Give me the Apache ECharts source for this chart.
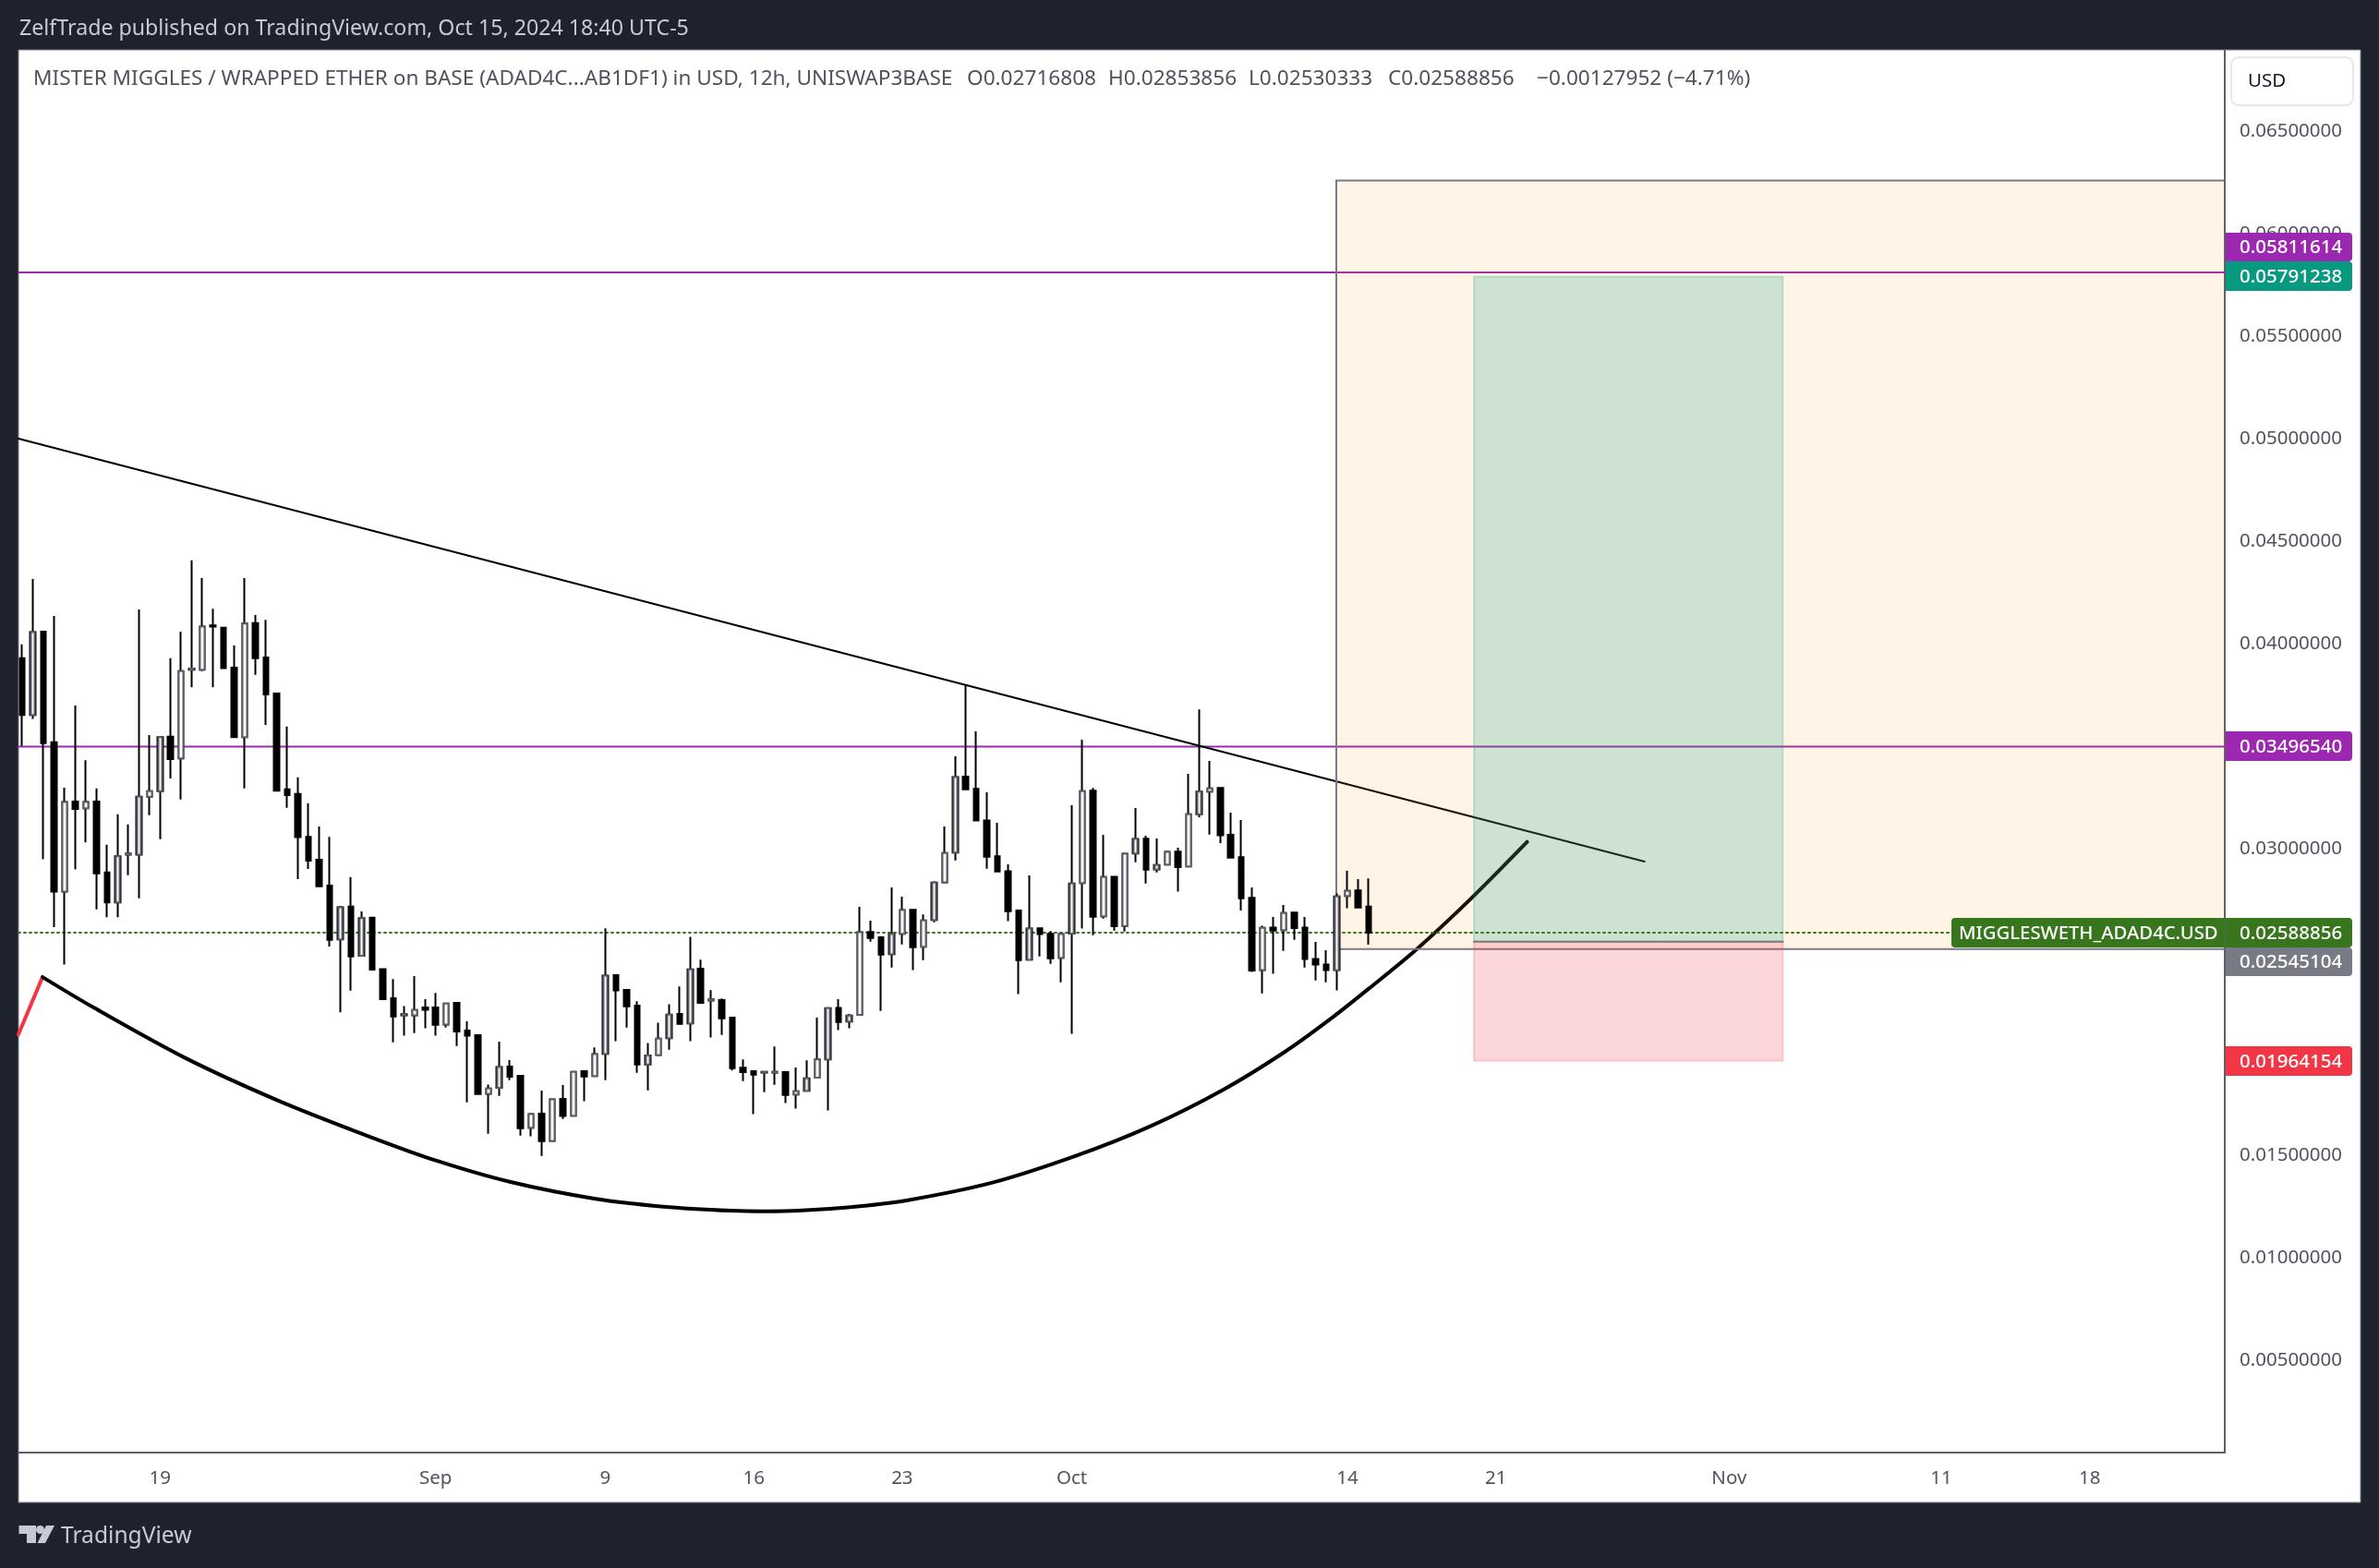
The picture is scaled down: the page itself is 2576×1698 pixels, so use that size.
<!DOCTYPE html>
<html>
<head>
<meta charset="utf-8">
<title>MISTER MIGGLES / WRAPPED ETHER</title>
<script src="https://cdn.jsdelivr.net/npm/echarts@6/dist/echarts.min.js"></script>
<style>
html,body{margin:0;padding:0;background:#1e222d;}
#main{width:2576px;height:1698px;}
</style>
</head>
<body>
<div id="main"></div>
<script>
// 12h bars
var opens=[.03928,.03651,.04058,.03518,.02790,.03229,.03196,.03229,.02883,.02736,
.02970,.02970,.03253,.03280,.03545,.03440,.03872,.03872,.04089,.04077,
.03882,.03543,.04100,.03932,.03756,.03289,.03266,.03057,.02945,.02819,
.02556,.02716,.02476,.02662,.02411,.02269,.02186,.02186,.02224,.02224,
.02141,.02246,.02111,.02089,.01803,.01832,.01936,.01890,.01637,.01706,
.01573,.01778,.01695,.01913,.01889,.01997,.02382,.02310,.02233,.01946,
.01992,.02074,.02192,.02146,.02413,.02258,.02260,.02174,.01930,.01913,
.01906,.01906,.01909,.01799,.01817,.01881,.01970,.02222,.02155,.02188,
.02592,.02566,.02484,.02583,.02700,.02520,.02651,.02835,.02980,.03351,
.03291,.03137,.02962,.02889,.02697,.02457,.02610,.02583,.02466,.02585,
.02831,.03282,.02669,.02862,.02622,.02975,.03047,.02898,.02921,.02984,
.02912,.03167,.03277,.03295,.03067,.02957,.02759,.02407,.02614,.02601,
.02687,.02614,.02461,.02434,.02407,.02768,.02795,.02716808];
var closes=[.03651,.04056,.03514,.02790,.03227,.03193,.03227,.02879,.02736,.02962,
.02976,.03253,.03280,.03543,.03436,.03866,.03878,.04083,.04083,.03880,
.03543,.04098,.03928,.03752,.03282,.03260,.03055,.02941,.02815,.02554,
.02713,.02473,.02660,.02409,.02265,.02180,.02191,.02212,.02213,.02140,
.02243,.02107,.02086,.01802,.01829,.01933,.01886,.01635,.01703,.01572,
.01775,.01694,.01910,.01887,.01996,.02379,.02307,.02230,.01946,.01990,
.02072,.02189,.02144,.02410,.02246,.02264,.02171,.01928,.01908,.01896,
.01910,.01910,.01797,.01815,.01878,.01970,.02221,.02153,.02185,.02591,
.02563,.02482,.02582,.02699,.02518,.02649,.02834,.02978,.03348,.03289,
.03136,.02960,.02888,.02694,.02455,.02609,.02582,.02464,.02582,.02829,
.03280,.02667,.02861,.02621,.02974,.03046,.02897,.02919,.02983,.02909,
.03167,.03277,.03293,.03064,.02955,.02757,.02404,.02613,.02599,.02685,
.02611,.02460,.02433,.02406,.02766,.02793,.02712,.02588856];
var highs=[.03996,.04315,.04058,.04135,.03297,.03698,.03431,.03293,.03018,.03167,
.03117,.04166,.03553,.03543,.03928,.04058,.04406,.04319,.04170,.04077,
.03990,.04319,.04139,.04116,.03756,.03595,.03347,.03220,.03107,.03057,
.02720,.02860,.02693,.02666,.02416,.02362,.02231,.02377,.02264,.02295,
.02243,.02246,.02156,.02089,.01848,.02057,.01967,.01890,.01709,.01818,
.01775,.01845,.01910,.01913,.02029,.02610,.02382,.02310,.02254,.02051,
.02150,.02240,.02326,.02569,.02457,.02308,.02268,.02174,.01970,.01916,
.01910,.02033,.01909,.01931,.01966,.02174,.02221,.02265,.02192,.02715,
.02648,.02572,.02810,.02765,.02700,.02678,.02840,.03107,.03450,.03798,
.03571,.03274,.03125,.02923,.02697,.02868,.02610,.02597,.02582,.03211,
.03531,.03295,.03067,.02862,.02974,.03197,.03062,.03049,.02989,.03004,
.03364,.03678,.03427,.03299,.03175,.03139,.02810,.02623,.02666,.02724,
.02687,.02666,.02544,.02503,.02781,.02891,.02850,.02853856];
var lows=[.03500,.03632,.02947,.02616,.02434,.02898,.03030,.02703,.02664,.02664,
.02869,.02757,.03162,.03045,.03342,.03239,.03787,.03866,.03787,.03880,
.03543,.03293,.03847,.03603,.03282,.03198,.02850,.02900,.02815,.02521,
.02200,.02306,.02476,.02409,.02265,.02054,.02086,.02099,.02122,.02086,
.02126,.02036,.01761,.01802,.01608,.01793,.01869,.01599,.01595,.01500,
.01573,.01680,.01695,.01766,.01889,.01869,.02059,.02126,.01905,.01820,
.01992,.02018,.02144,.02059,.02246,.02077,.02090,.01916,.01865,.01703,
.01811,.01847,.01757,.01730,.01817,.01881,.01721,.02113,.02122,.02188,
.02545,.02207,.02419,.02532,.02406,.02455,.02640,.02835,.02942,.03289,
.03136,.02901,.02888,.02645,.02289,.02457,.02473,.02437,.02347,.02095,
.02609,.02577,.02658,.02599,.02595,.02933,.02829,.02883,.02921,.02789,
.02912,.03152,.03068,.03026,.02955,.02697,.02397,.02293,.02388,.02500,
.02554,.02419,.02356,.02347,.02307,.02708,.02712,.02530333];

var timeTickBars=[13,39,55,69,83,99,125,139,161,181,195];
var timeTickLabels=['19','Sep','9','16','23','Oct','14','21','Nov','11','18'];
var priceTicks=[0.005,0.01,0.015,0.02,0.025,0.03,0.035,0.04,0.045,0.05,0.055,0.06,0.065];

// drawings: bar position, price
var trendLine=[[-0.35,.05],[153.02,.02936]];
var redSegment=[[-0.35,.02093],[1.92,.02372]];
var arcCurve=[[1.92,.02372],[6.62,.02227],[15.33,.01979],[24.04,.01772],[32.75,.01594],[39.15,.01475],
[46.08,.01372],[54.09,.01290],[60.49,.01252],[66.9,.01232],[70.1,.01229],[73.2,.01232],[79,.01254],[83.42,.01282],
[91.43,.01368],[99.39,.01500],[106.36,.01643],[113.3,.01823],[119.2,.02011],[123.43,.02169],[127.09,.02319],
[131.5,.02507],[136.63,.02754],[141.95,.03032]];
var lastPrice=0.02588856;
var resistanceTop=0.05811614;
var resistanceMid=0.03496540;
var targetPrice=0.05791238;
var entryPrice=0.02545104;
var stopPrice=0.01964154;
var boxTop=0.06259;
var boxBottom=0.02509;
var boxBars=[123.95,212];
var positionBars=[136.93,166.07];

var xMin=-0.35, xMax=207.75, yMin=0.000518, yMax=0.068972;
var uiFont='"Noto Sans"';

var myChart=echarts.init(document.getElementById('main'));

var candleData=[],upBodies=[];
for(var i=0;i<opens.length;i++){
    candleData.push([i,opens[i],closes[i],lows[i],highs[i]]);
    if(closes[i]>opens[i]){
        upBodies.push([i,opens[i],closes[i],opens[i],closes[i]]);
    }
}

function lineSeries(data,color,width,z,type,smooth){
    return {type:'line',data:data,symbol:'none',silent:true,animation:false,z:z,clip:true,smooth:smooth||false,
        lineStyle:{color:color,width:width,type:type||'solid',cap:'round'}};
}
function hLine(price,from,to){return [[from,price],[to,price]];}

function rectSeries(data,fill,stroke,strokeWidth,z){
    return {type:'custom',data:data,silent:true,animation:false,z:z,clip:true,
        encode:{x:[0,1],y:[2,3]},
        renderItem:function(params,api){
            var a=api.coord([api.value(0),api.value(2)]);
            var b=api.coord([api.value(1),api.value(3)]);
            return {type:'rect',shape:{x:a[0],y:a[1],width:b[0]-a[0],height:b[1]-a[1]},
                style:{fill:fill,stroke:stroke,lineWidth:strokeWidth}};
        }};
}

function tag(text,fill,top,height){
    return [
        {type:'rect',z:50,shape:{x:2410,y:top,width:137,height:height,r:[0,4,4,0]},style:{fill:fill}},
        {type:'text',z:51,style:{text:text,x:2425,y:top+height/2+1,fill:'#fff',font:'500 20.5px '+uiFont,textVerticalAlign:'middle'}}
    ];
}
function headerText(text,x){
    return {type:'text',z:40,style:{text:text,x:x,y:86,fill:'#50535e',font:'22.6px '+uiFont,textVerticalAlign:'middle'}};
}

var graphics=[
    {type:'rect',z:-5,shape:{x:20,y:54,width:2536,height:1573},style:{fill:'#fff',stroke:'#787b86',lineWidth:1}},
    {type:'text',style:{text:'ZelfTrade published on TradingView.com, Oct 15, 2024 18:40 UTC-5',x:21,y:31,fill:'#c8cad3',font:'23.2px '+uiFont,textVerticalAlign:'middle'}},
    headerText('MISTER MIGGLES / WRAPPED ETHER on BASE (ADAD4C...AB1DF1) in USD, 12h, UNISWAP3BASE',36),
    headerText('O0.02716808',1047),
    headerText('H0.02853856',1200),
    headerText('L0.02530333',1352),
    headerText('C0.02588856',1503),
    headerText('\u22120.00127952 (\u22124.71%)',1664),
    {type:'rect',z:40,shape:{x:2416,y:62,width:132,height:52,r:8},style:{fill:'#fff',stroke:'#e6e8ee',lineWidth:2}},
    {type:'text',z:41,style:{text:'USD',x:2434,y:88,fill:'#131722',font:'20.5px '+uiFont,textVerticalAlign:'middle'}},
    // TradingView logo
    {type:'polygon',shape:{points:[[20.5,1652],[39,1652],[39,1671],[29,1671],[29,1661],[20.5,1661]]},style:{fill:'#c8cad3'}},
    {type:'circle',shape:{cx:43.5,cy:1656.5,r:4.5},style:{fill:'#c8cad3'}},
    {type:'polygon',shape:{points:[[50,1652],[59,1652],[49,1671],[40.5,1671]]},style:{fill:'#c8cad3'}},
    {type:'text',style:{text:'TradingView',x:66,y:1664,fill:'#c8cad3',font:'24.6px '+uiFont,textVerticalAlign:'middle'}},
    // symbol label next to last price
    {type:'rect',z:50,shape:{x:2113,y:994,width:296,height:32,r:[4,0,0,4]},style:{fill:'#38761d'}},
    {type:'text',z:51,style:{text:'MIGGLESWETH_ADAD4C.USD',x:2121,y:1011,fill:'#fff',font:'500 20.3px '+uiFont,textVerticalAlign:'middle'}}
];
graphics=graphics.concat(
    tag(resistanceTop.toFixed(8),'#9c27b0',252,31),
    tag(targetPrice.toFixed(8),'#089981',283,32),
    tag(resistanceMid.toFixed(8),'#9c27b0',792,32),
    tag(lastPrice.toFixed(8),'#38761d',994,32),
    tag(entryPrice.toFixed(8),'#787b86',1026,31),
    tag(stopPrice.toFixed(8),'#f23645',1133,32)
);

myChart.setOption({
    backgroundColor:'#1e222d',
    animation:false,
    grid:{left:20,right:167,top:54,bottom:125,containLabel:false},
    xAxis:{
        type:'value',min:xMin,max:xMax,
        splitLine:{show:false},
        axisTick:{show:false},
        axisLine:{show:true,onZero:false,lineStyle:{color:'#5d5f66',width:2}},
        axisLabel:{
            customValues:timeTickBars,color:'#50535e',fontFamily:uiFont,fontSize:20.5,margin:18,
            formatter:function(v){return timeTickLabels[timeTickBars.indexOf(v)];}
        }
    },
    yAxis:{
        type:'value',position:'right',min:yMin,max:yMax,
        splitLine:{show:false},
        axisTick:{show:false},
        axisLine:{show:true,onZero:false,lineStyle:{color:'#5d5f66',width:2}},
        axisLabel:{
            customValues:priceTicks,color:'#50535e',fontFamily:uiFont,fontSize:20.5,margin:16,
            formatter:function(v){return v.toFixed(8);}
        }
    },
    graphic:graphics,
    series:[
        lineSeries(hLine(resistanceTop,xMin,xMax),'#9c27b0',2,2),
        lineSeries(hLine(resistanceMid,xMin,xMax),'#9c27b0',2,2),
        lineSeries(trendLine,'#000',2,2),
        lineSeries(redSegment,'#f23645',4,2),
        lineSeries(arcCurve,'#000',4,2,'solid',0.3),
        rectSeries([[boxBars[0],boxBars[1],boxBottom,boxTop]],'rgba(255,152,0,0.1)','#787b86',2,3),
        rectSeries([[positionBars[0],positionBars[1],entryPrice,targetPrice]],'rgba(8,153,129,0.2)','rgba(8,153,129,0.2)',2,4),
        rectSeries([[positionBars[0],positionBars[1],stopPrice,entryPrice]],'rgba(242,54,69,0.2)','rgba(242,54,69,0.2)',2,4),
        lineSeries(hLine(entryPrice,positionBars[0],positionBars[1]),'#787b86',2,5),
        lineSeries(hLine(lastPrice,xMin,xMax),'#38761d',2,5,[2,4]),
        {
            type:'candlestick',data:candleData,barWidth:6,silent:true,animation:false,z:6,
            itemStyle:{color:'#000',color0:'#000',borderColor:'#000',borderColor0:'#000',borderWidth:2}
        },
        {
            type:'candlestick',data:upBodies,barWidth:5,silent:true,animation:false,z:7,
            itemStyle:{color:'#fff',color0:'#fff',borderColor:'#5d606b',borderColor0:'#5d606b',borderWidth:2}
        }
    ]
});
</script>
</body>
</html>
